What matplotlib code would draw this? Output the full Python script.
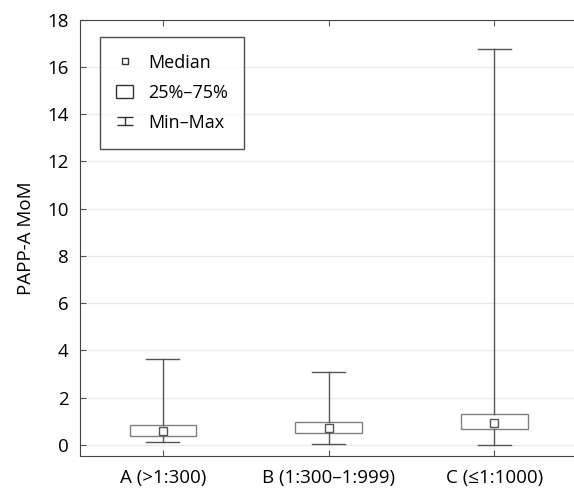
import numpy as np
import matplotlib
matplotlib.use("Agg")
import matplotlib.pyplot as plt
from matplotlib.lines import Line2D
from matplotlib.patches import Patch
from matplotlib.path import Path

plt.rcParams['font.family'] = ['Open Sans', 'DejaVu Sans']

# values
groups = ["A (>1:300)", "B (1:300\u20131:999)", "C (\u22641:1000)"]
mins = [0.11, 0.06, 0.0]
q1s = [0.38, 0.49, 0.68]
medians = [0.58, 0.70, 0.94]
q3s = [0.83, 0.97, 1.32]
maxs = [3.66, 3.09, 16.76]
yticks = [0, 2, 4, 6, 8, 10, 12, 14, 16, 18]

fig = plt.figure(figsize=(5.74, 4.92), dpi=100)
ax = fig.add_axes([0.139, 0.073, 0.861, 0.887])

stats = []
for i in range(len(groups)):
    stats.append(dict(med=medians[i], q1=q1s[i], q3=q3s[i], whislo=mins[i], whishi=maxs[i], label=groups[i]))
pos = np.arange(1, len(groups) + 1)

ax.bxp(stats, positions=pos, widths=0.4, showfliers=False, patch_artist=True,
       boxprops=dict(facecolor='white', edgecolor='#808080', linewidth=1.0),
       whiskerprops=dict(color='#555555', linewidth=1.0),
       capprops=dict(color='#555555', linewidth=1.0),
       medianprops=dict(linewidth=0), capwidths=0.2, zorder=3)
ax.plot(pos, medians, ls='none', marker='s', ms=6, mfc='white', mec='#555555', mew=1.0, zorder=4)

ax.set_xlim(0.5, 3.48)
ax.set_ylim(-0.47, 18)
ax.set_yticks(yticks)
ax.set_xticks(pos)
ax.set_xticklabels(groups, fontsize=13.5)
ax.tick_params(axis='y', labelsize=13.5, length=4, direction='in', color='#555555', pad=8)
ax.tick_params(axis='x', length=4, direction='in', top=True, color='#555555', pad=9)
ax.yaxis.grid(True, color='#ebebeb', linewidth=1.0)
ax.set_axisbelow(True)
ax.spines['right'].set_visible(False)
for s in ['left', 'bottom', 'top']:
    ax.spines[s].set_color('#444444')
ax.set_ylabel("PAPP-A MoM", fontsize=13.5, labelpad=9)

# legend, min-max symbol is a wide I-beam
ibeam = Path([(-1, 0.55), (1, 0.55), (0, 0.55), (0, -0.55), (-1, -0.55), (1, -0.55)],
             [Path.MOVETO, Path.LINETO, Path.MOVETO, Path.LINETO, Path.MOVETO, Path.LINETO])
handles = [
    Line2D([], [], ls='none', marker='s', ms=5, mfc='white', mec='#333333', mew=1.0),
    Patch(facecolor='white', edgecolor='#333333', linewidth=1.0),
    Line2D([], [], ls='none', marker=ibeam, ms=11, mfc='none', mec='#333333', mew=1.0),
]
leg = ax.legend(handles, ["Median", "25%\u201375%", "Min\u2013Max"], loc='upper left',
                bbox_to_anchor=(0.04, 0.96), fontsize=13, frameon=True, fancybox=False,
                edgecolor='#222222', handlelength=0.95, handleheight=0.8, labelspacing=0.67,
                borderpad=0.92, handletextpad=0.8, borderaxespad=0)
leg.get_frame().set_linewidth(1.0)

fig.savefig("out.png", dpi=100)
